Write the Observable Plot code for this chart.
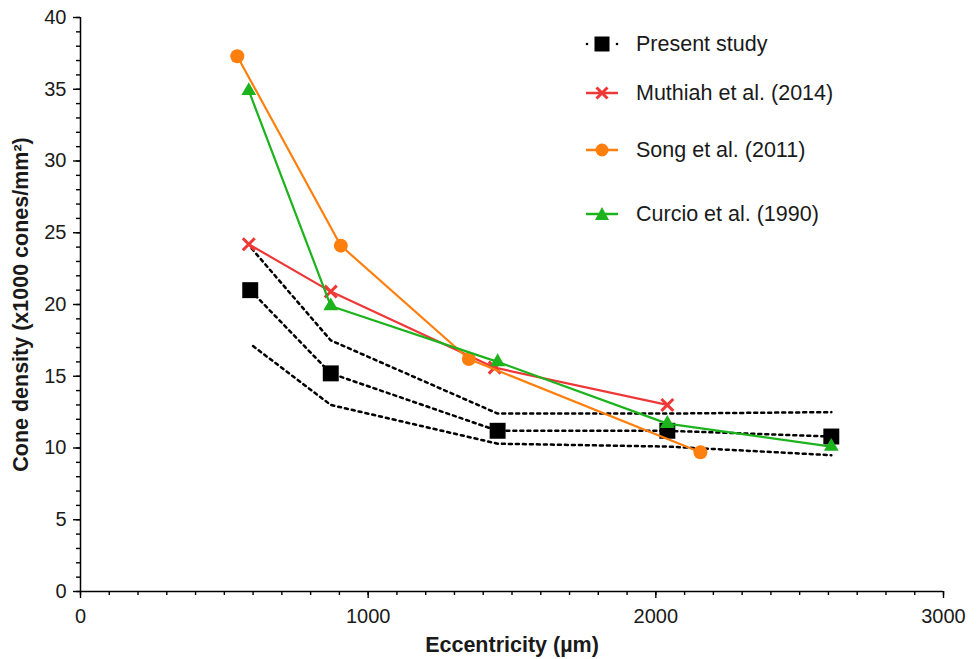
<!DOCTYPE html>
<html><head><meta charset="utf-8">
<script src="https://cdn.jsdelivr.net/npm/d3@7"></script>
<script src="https://cdn.jsdelivr.net/npm/@observablehq/plot@0.6"></script>
<style>
body{margin:0;background:#fff;font-family:"Liberation Sans",Arial,sans-serif;}
#wrap{position:relative;width:978px;height:659px;}
g[aria-label="x-axis label"] text, g[aria-label="y-axis label"] text{font-weight:bold;font-size:21.5px;}
.row{position:absolute;left:584px;height:24px;display:flex;align-items:center;font-size:21.5px;color:#1a1a1a;white-space:nowrap;}
.row svg{margin-right:16px;}
</style>
</head><body>
<div id="wrap"></div>
<script>
// ---- data ----
const presentEcc = [590, 870, 1450, 2040, 2610];
const presentDensity = [21.0, 15.2, 11.2, 11.2, 10.8];
const upperEcc = [595, 870, 1450, 2040, 2610];
const upperDensity = [23.9, 17.5, 12.4, 12.4, 12.5];
const lowerEcc = [600, 870, 1450, 2040, 2610];
const lowerDensity = [17.1, 13.0, 10.3, 10.1, 9.5];
const muthiahEcc = [585, 870, 1440, 2040];
const muthiahDensity = [24.2, 20.9, 15.6, 13.0];
const songEcc = [545, 905, 1350, 2155];
const songDensity = [37.3, 24.1, 16.2, 9.7];
const curcioEcc = [585, 870, 1450, 2040, 2610];
const curcioDensity = [34.9, 19.9, 16.0, 11.7, 10.1];
const xMajorTicks = [0, 1000, 2000, 3000];
const xMinorTicks = d3.range(0, 3001, 100);
const yMajorTicks = [0, 5, 10, 15, 20, 25, 30, 35, 40];
const yMinorTicks = d3.range(0, 41, 1);
const seriesNames = ["Present study", "Muthiah et al. (2014)", "Song et al. (2011)", "Curcio et al. (1990)"];
const colors = {red: "#ee3838", orange: "#ff7f0e", green: "#1db31d", black: "#000000"};

const pts = (xs, ys) => xs.map((x, i) => ({x, y: ys[i]}));
const present = pts(presentEcc, presentDensity);
const upper = pts(upperEcc, upperDensity);
const lower = pts(lowerEcc, lowerDensity);
const muthiah = pts(muthiahEcc, muthiahDensity);
const song = pts(songEcc, songDensity);
const curcio = pts(curcioEcc, curcioDensity);

const dash = "3,4";
const fmt = d => String(d);
const chart = Plot.plot({
  width: 978, height: 659,
  marginLeft: 80, marginRight: 35, marginTop: 17, marginBottom: 68,
  style: {fontFamily: '"Liberation Sans", Arial, sans-serif', background: "#fff", color: "#1a1a1a"},
  x: {domain: [0, 3000]},
  y: {domain: [0, 40]},
  marks: [
    // minor ticks
    Plot.ruleY(yMinorTicks, {y: d => d, x1: 0, x2: 0, insetLeft: -4, stroke: "#000", strokeWidth: 1.4}),
    Plot.ruleX(xMinorTicks, {x: d => d, y1: 0, y2: 0, insetBottom: -4, stroke: "#000", strokeWidth: 1.4}),
    Plot.axisY({ticks: yMajorTicks, tickFormat: fmt, tickSize: 7, tickPadding: 7, fontSize: 20, stroke: "#000", strokeWidth: 1.4,
      label: "Cone density (x1000 cones/mm²)", labelAnchor: "center", labelOffset: 68, labelArrow: "none"}),
    Plot.axisX({ticks: xMajorTicks, tickFormat: fmt, tickSize: 7, tickPadding: 10, fontSize: 20, stroke: "#000", strokeWidth: 1.4,
      label: "Eccentricity (µm)", labelAnchor: "center", labelOffset: 60, labelArrow: "none"}),
    Plot.ruleX([0], {stroke: "#000", strokeWidth: 1.5}),
    Plot.ruleY([0], {stroke: "#000", strokeWidth: 1.5}),
    Plot.line(upper, {x: "x", y: "y", stroke: "#000", strokeWidth: 2.5, strokeDasharray: dash}),
    Plot.line(lower, {x: "x", y: "y", stroke: "#000", strokeWidth: 2.5, strokeDasharray: dash}),
    Plot.line(present, {x: "x", y: "y", stroke: "#000", strokeWidth: 2.5, strokeDasharray: dash}),
    Plot.dot(present, {x: "x", y: "y", symbol: "square", r: 9, fill: "#000"}),
    Plot.line(muthiah, {x: "x", y: "y", stroke: colors.red, strokeWidth: 2.2}),
    Plot.dot(muthiah, {x: "x", y: "y", symbol: "times", r: 5.5, stroke: colors.red, strokeWidth: 3}),
    Plot.line(song, {x: "x", y: "y", stroke: colors.orange, strokeWidth: 2.2}),
    Plot.dot(song, {x: "x", y: "y", symbol: "circle", r: 7, fill: colors.orange}),
    Plot.line(curcio, {x: "x", y: "y", stroke: colors.green, strokeWidth: 2.2}),
    Plot.dot(curcio, {x: "x", y: "y", symbol: "triangle", r: 5.5, fill: colors.green})
  ]
});
const wrap = document.getElementById("wrap");
wrap.appendChild(chart);

// ---- legend (HTML overlay) ----
const legendRows = [
  {name: seriesNames[0], cy: 44, kind: "square", color: colors.black},
  {name: seriesNames[1], cy: 93, kind: "times", color: colors.red},
  {name: seriesNames[2], cy: 150, kind: "circle", color: colors.orange},
  {name: seriesNames[3], cy: 214, kind: "triangle", color: colors.green}
];
legendRows.forEach(r => {
  const row = document.createElement("div");
  row.className = "row";
  row.style.top = (r.cy - 12) + "px";
  let icon = "";
  if (r.kind === "square") {
    icon = `<circle cx="3" cy="12" r="1.3" fill="#000"/><circle cx="33" cy="12" r="1.3" fill="#000"/><rect x="10.5" y="4.5" width="15" height="15" fill="#000"/>`;
  } else {
    icon = `<line x1="2" y1="12" x2="34" y2="12" stroke="${r.color}" stroke-width="2.5"/>`;
    if (r.kind === "times") icon += `<path d="M12.5,6.5L23.5,17.5M23.5,6.5L12.5,17.5" stroke="${r.color}" stroke-width="3"/>`;
    if (r.kind === "circle") icon += `<circle cx="18" cy="12" r="6.5" fill="${r.color}"/>`;
    if (r.kind === "triangle") icon += `<path d="M18,5L25,18L11,18Z" fill="${r.color}"/>`;
  }
  row.innerHTML = `<svg width="36" height="24" viewBox="0 0 36 24">${icon}</svg><span>${r.name}</span>`;
  wrap.appendChild(row);
});
</script>
</body></html>
